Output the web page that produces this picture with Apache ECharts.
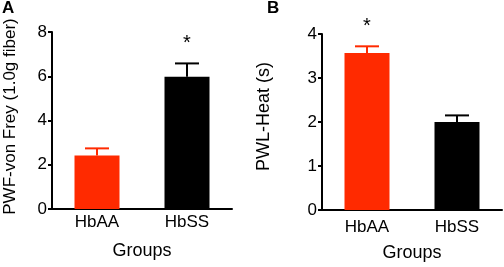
<!DOCTYPE html>
<html>
<head>
<meta charset="utf-8">
<script src="https://cdn.jsdelivr.net/npm/echarts@6/dist/echarts.min.js"></script>
<style>
  html, body { margin: 0; padding: 0; background: #fff; }
  #chart { width: 504px; height: 267px; }
</style>
</head>
<body>
<div id="chart"></div>
<script>
// 数据
var groups = ['HbAA', 'HbSS'];
var vonFreyMean = [2.42, 5.98];
var vonFreySem = [0.32, 0.6];
var vonFreySig = ['', '*'];
var heatMean = [3.57, 2.0];
var heatSem = [0.15, 0.15];
var heatSig = ['*', ''];
var barColors = ['#ff2a00', '#000000'];

var font = 'Liberation Sans, Arial, sans-serif';

function errData(mean, sem) {
    return mean.map(function (m, i) {
        return [i, m, m + sem[i]];
    });
}

// 误差线 + 显著性星号
function renderErr(params, api) {
    var i = api.value(0);
    var base = api.coord([i, api.value(1)]);
    var top = api.coord([i, api.value(2)]);
    var c = barColors[i];
    var children = [
        {type: 'line', shape: {x1: base[0], y1: base[1], x2: top[0], y2: top[1]},
         style: {stroke: c, lineWidth: 2}},
        {type: 'line', shape: {x1: top[0] - 12, y1: top[1], x2: top[0] + 12, y2: top[1]},
         style: {stroke: c, lineWidth: 2}}
    ];
    var mark = params.seriesIndex === 1 ? vonFreySig[i] : heatSig[i];
    if (mark) {
        children.push({type: 'text', x: top[0], y: top[1] - 20,
            style: {text: mark, font: '20px ' + font, fill: '#000', align: 'center', verticalAlign: 'middle'}});
    }
    return {type: 'group', children: children};
}

function xAx(idx, labelMargin, gap) {
    return {
        type: 'category', gridIndex: idx, data: groups,
        name: 'Groups', nameLocation: 'middle', nameGap: gap,
        nameTextStyle: {fontSize: 18, fontFamily: font, color: '#000'},
        axisLine: {lineStyle: {color: '#000', width: 2}},
        axisTick: {alignWithLabel: true, length: 5, lineStyle: {width: 2}},
        axisLabel: {fontSize: 17, fontFamily: font, color: '#000', margin: labelMargin}
    };
}

function yAx(idx, max, interval, name, size, gap, pad) {
    return {
        type: 'value', gridIndex: idx, min: 0, max: max, interval: interval,
        name: name, nameLocation: 'middle', nameGap: gap,
        nameTextStyle: {fontSize: size, fontFamily: font, color: '#000', padding: pad},
        splitLine: {show: false},
        axisLine: {show: true, lineStyle: {color: '#000', width: 2}},
        axisTick: {show: true, length: 4, lineStyle: {width: 2}},
        axisLabel: {fontSize: 17, fontFamily: font, color: '#000', margin: 5}
    };
}

var myChart = echarts.init(document.getElementById('chart'));

var option = {
    animation: false,
    textStyle: {fontFamily: font},
    graphic: [
        {type: 'text', left: 2, top: 0, style: {text: 'A', font: 'bold 17px ' + font, fill: '#000'}},
        {type: 'text', left: 267, top: 0, style: {text: 'B', font: 'bold 17px ' + font, fill: '#000'}}
    ],
    grid: [
        {left: 52, right: 272, top: 32, bottom: 58},
        {left: 322, right: 2, top: 34, bottom: 53}
    ],
    xAxis: [xAx(0, 5, 33), xAx(1, 9, 34)],
    yAxis: [
        yAx(0, 8, 2, 'PWF-von Frey (1.0g fiber)', 17, 33, [0, 0, 0, 8]),
        yAx(1, 4, 1, 'PWL-Heat (s)', 18, 49, [0, 0, 0, 11])
    ],
    series: [
        {
            type: 'bar', xAxisIndex: 0, yAxisIndex: 0, barWidth: 45,
            data: vonFreyMean.map(function (v, i) { return {value: v, itemStyle: {color: barColors[i]}}; })
        },
        {
            type: 'custom', xAxisIndex: 0, yAxisIndex: 0, z: 3,
            data: errData(vonFreyMean, vonFreySem),
            renderItem: renderErr
        },
        {
            type: 'bar', xAxisIndex: 1, yAxisIndex: 1, barWidth: 45,
            data: heatMean.map(function (v, i) { return {value: v, itemStyle: {color: barColors[i]}}; })
        },
        {
            type: 'custom', xAxisIndex: 1, yAxisIndex: 1, z: 3,
            data: errData(heatMean, heatSem),
            renderItem: renderErr
        }
    ]
};

myChart.setOption(option);
</script>
</body>
</html>
